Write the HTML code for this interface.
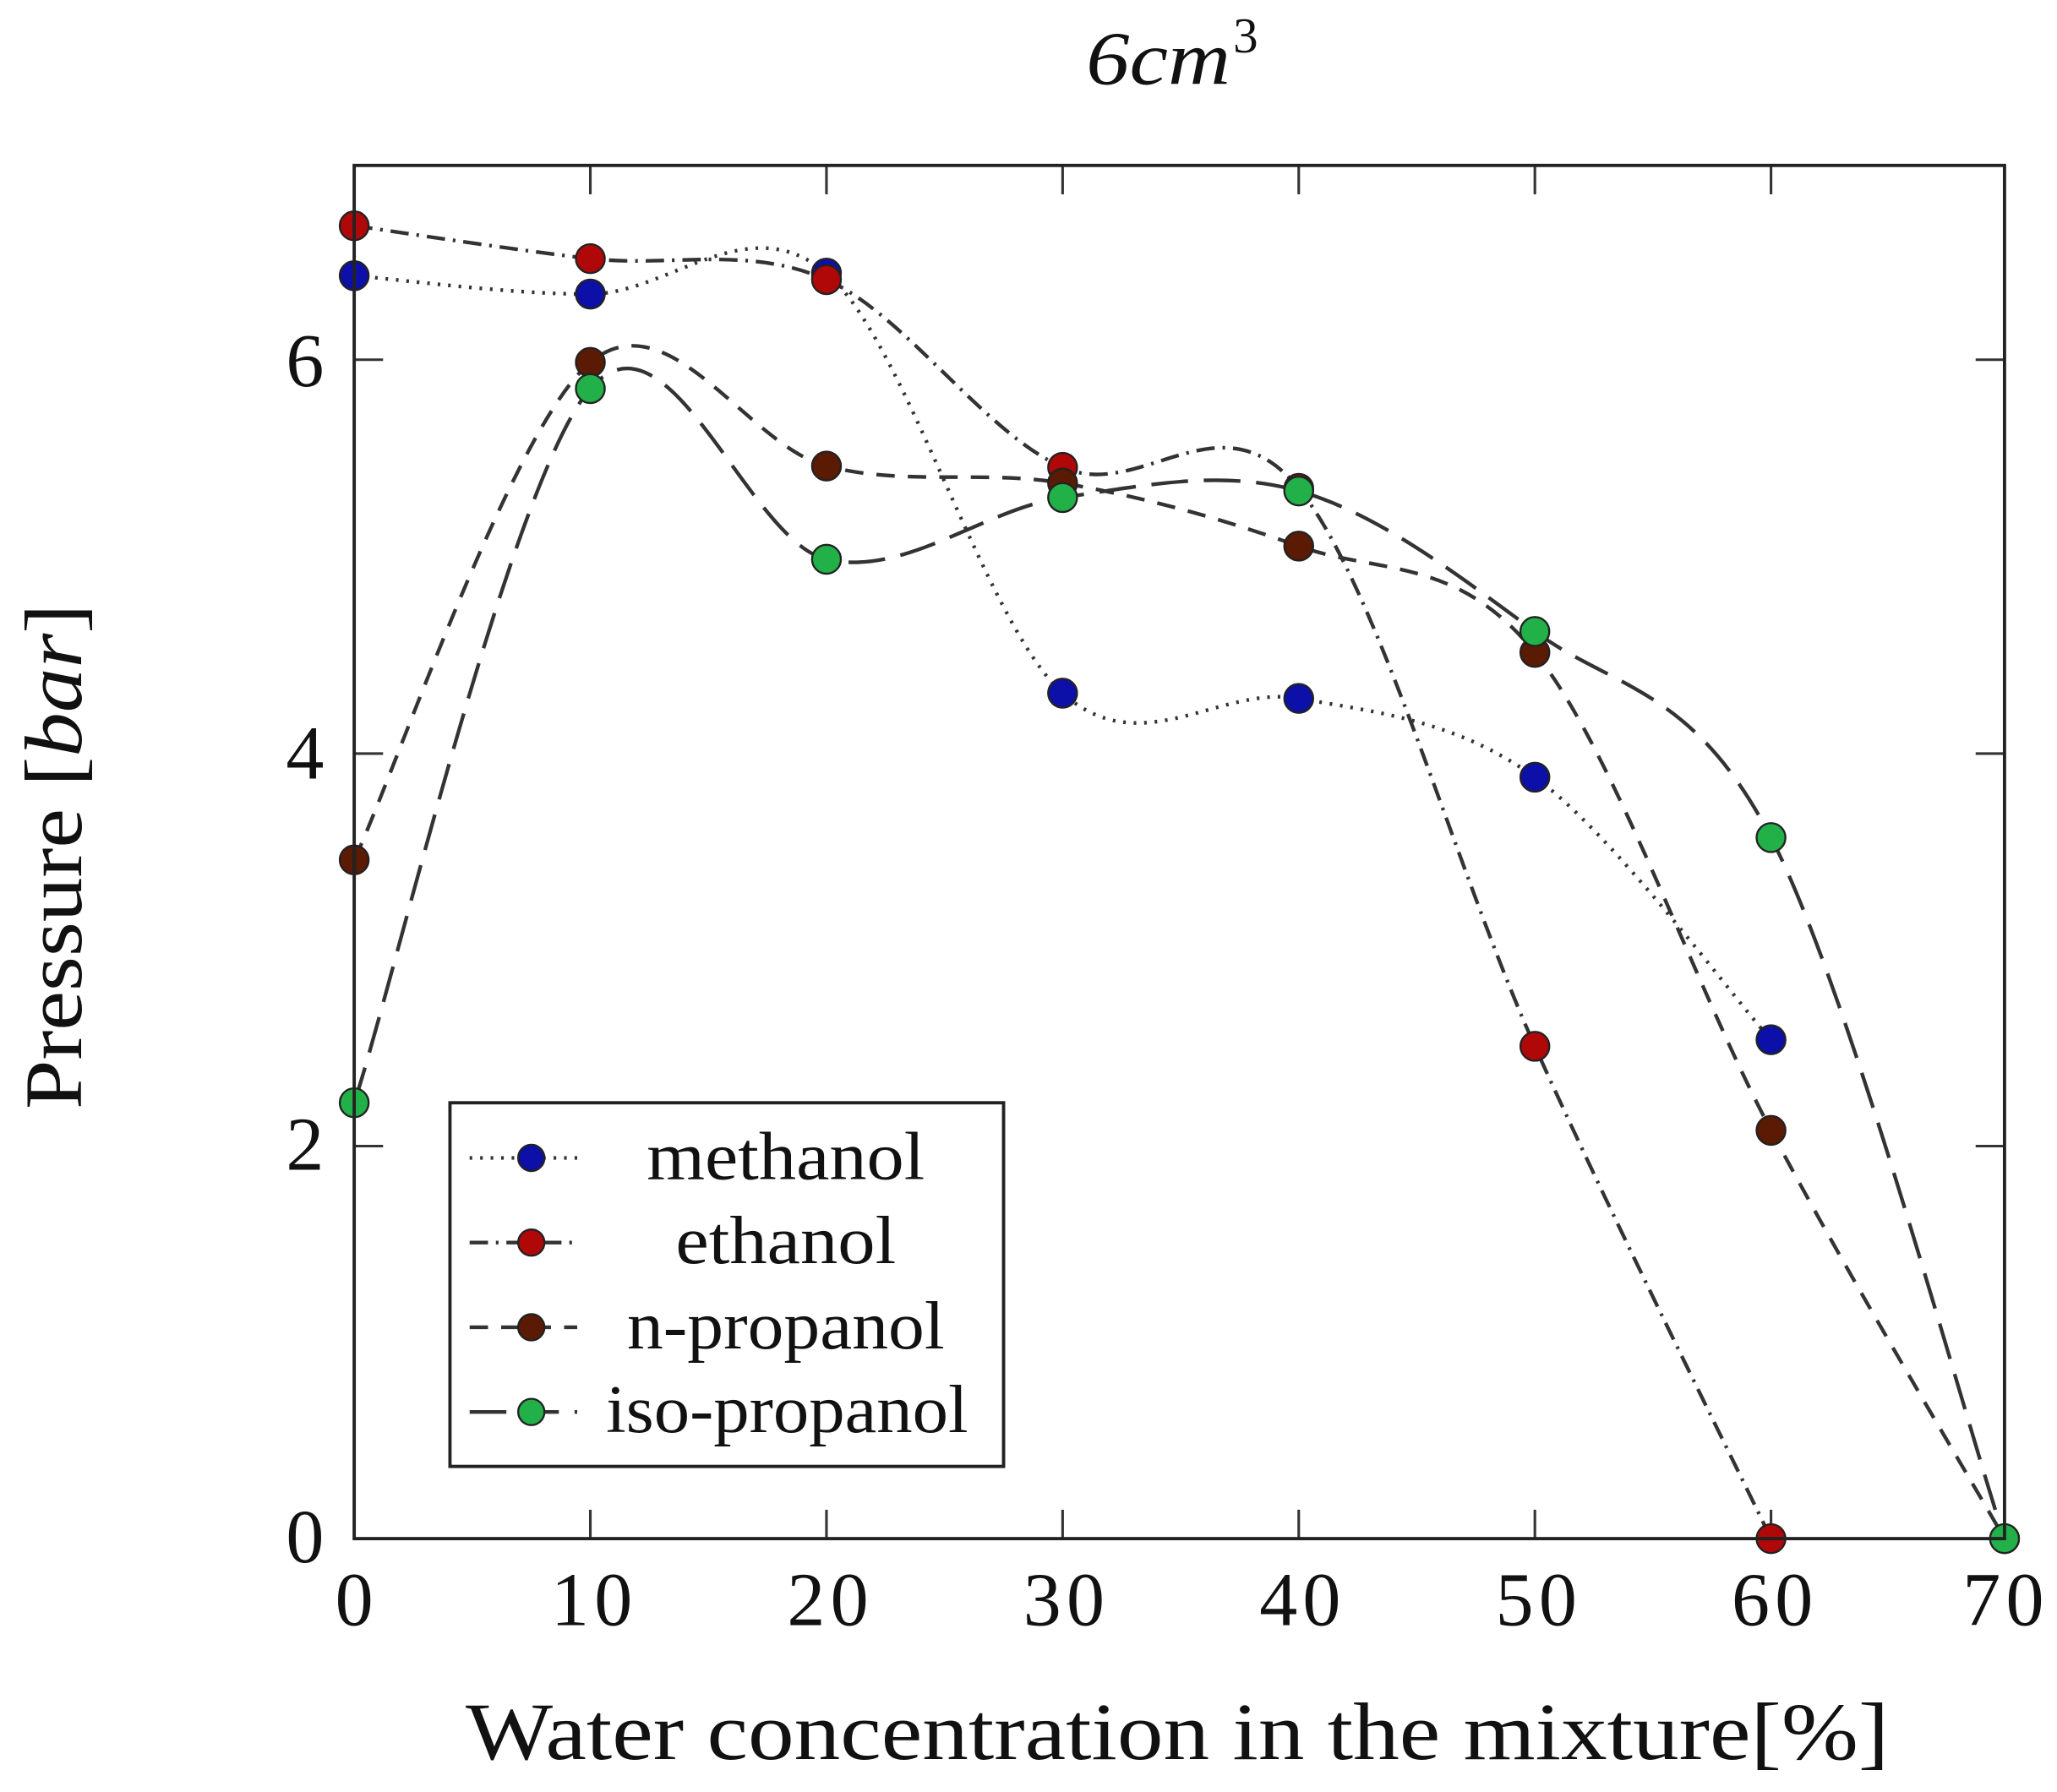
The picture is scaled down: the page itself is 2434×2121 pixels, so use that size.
<!DOCTYPE html>
<html><head><meta charset="utf-8"><style>
html,body{margin:0;padding:0;background:#fff;}
svg{display:block;}
text{font-family:"Liberation Serif","DejaVu Serif",serif;fill:#111;}
</style></head><body>
<svg id="s" width="2434" height="2121" viewBox="0 0 1568 1365" preserveAspectRatio="none" xmlns="http://www.w3.org/2000/svg">
<rect x="0" y="0" width="1568" height="1365" fill="#fff"/>
<text x="828" y="64" font-size="58" font-style="italic" textLength="110" lengthAdjust="spacingAndGlyphs">6cm</text><text x="940" y="40" font-size="38">3</text>
<g id="ticks" stroke="#333" stroke-width="2"></g>
<g id="curves" fill="none" stroke="#333" stroke-width="2.8"></g>
<g id="marks" stroke="#222" stroke-width="1.5"></g>
<rect x="270" y="126" width="1258" height="1046" fill="none" stroke="#222" stroke-width="2.5"/>
<g font-size="58" text-anchor="middle">
<text x="270" y="1238">0</text><text x="451" y="1238" textLength="62">10</text><text x="631" y="1238" textLength="62">20</text><text x="811" y="1238" textLength="62">30</text>
<text x="991" y="1238" textLength="62">40</text><text x="1171" y="1238" textLength="62">50</text><text x="1351" y="1238" textLength="62">60</text><text x="1527" y="1238" textLength="62">70</text>
</g>
<g font-size="58" text-anchor="end">
<text x="247" y="1190">0</text><text x="247" y="891">2</text><text x="247" y="593">4</text><text x="247" y="294">6</text>
</g>
<text x="355" y="1340" font-size="62" textLength="1085" lengthAdjust="spacingAndGlyphs">Water concentration in the mixture[%]</text>
<text transform="translate(62,845) rotate(-90)" font-size="62" textLength="385" lengthAdjust="spacingAndGlyphs">Pressure [<tspan font-style="italic">bar</tspan>]</text>
<rect x="343" y="840" width="422" height="277" fill="#fff" stroke="#222" stroke-width="2.5"/>
<g id="leg"></g>
<g font-size="52">
<text x="493" y="898" textLength="212" lengthAdjust="spacingAndGlyphs">methanol</text>
<text x="515" y="962" textLength="168" lengthAdjust="spacingAndGlyphs">ethanol</text>
<text x="478" y="1027" textLength="242" lengthAdjust="spacingAndGlyphs">n-propanol</text>
<text x="462" y="1091" textLength="276" lengthAdjust="spacingAndGlyphs">iso-propanol</text>
</g>
</svg>
<script>
var NS="http://www.w3.org/2000/svg";
function el(t,a,p){var e=document.createElementNS(NS,t);for(var k in a)e.setAttribute(k,a[k]);document.getElementById(p).appendChild(e);return e;}
[270,450,630,810,990,1170,1350,1528].forEach(function(x){el("line",{x1:x,y1:1172,x2:x,y2:1150},"ticks");el("line",{x1:x,y1:126,x2:x,y2:148},"ticks");});
[1172,873,574,274].forEach(function(y){el("line",{x1:270,y1:y,x2:292,y2:y},"ticks");el("line",{x1:1528,y1:y,x2:1506,y2:y},"ticks");});
var S=[
 {c:"#0c10a8",d:"2,6",p:[[270,210],[450,224],[630,208],[810,528],[990,532],[1170,592],[1350,792]]},
 {c:"#b00808",d:"14,6,2,6",p:[[270,172],[450,197],[630,213],[810,356],[990,372],[1170,797],[1350,1172]]},
 {c:"#5a1a04",d:"14,10",p:[[270,655],[450,276],[630,355],[810,368],[990,416],[1170,497],[1350,861],[1528,1172]]},
 {c:"#22b048",d:"28,12",p:[[270,840],[450,296],[630,426],[810,379],[990,374],[1170,481],[1350,638],[1528,1172]]}
];
function path(p){var d="M"+p[0][0]+","+p[0][1];for(var i=0;i<p.length-1;i++){var a=p[i-1]||p[i],b=p[i],c=p[i+1],e=p[i+2]||c;
d+=" C"+(b[0]+(c[0]-a[0])/6)+","+(b[1]+(c[1]-a[1])/6)+" "+(c[0]-(e[0]-b[0])/6)+","+(c[1]-(e[1]-b[1])/6)+" "+c[0]+","+c[1];}return d;}
S.forEach(function(s,i){el("path",{d:path(s.p),"stroke-dasharray":s.d},"curves");
 s.p.forEach(function(q){el("circle",{cx:q[0],cy:q[1],r:11,fill:s.c},"marks");});
 var y=882+i*64.5;el("line",{x1:358,y1:y,x2:440,y2:y,stroke:"#333","stroke-width":2.8,"stroke-dasharray":s.d},"leg");
 el("circle",{cx:405,cy:y,r:10,fill:s.c,stroke:"#222","stroke-width":1.5},"leg");});
</script>
</body></html>
